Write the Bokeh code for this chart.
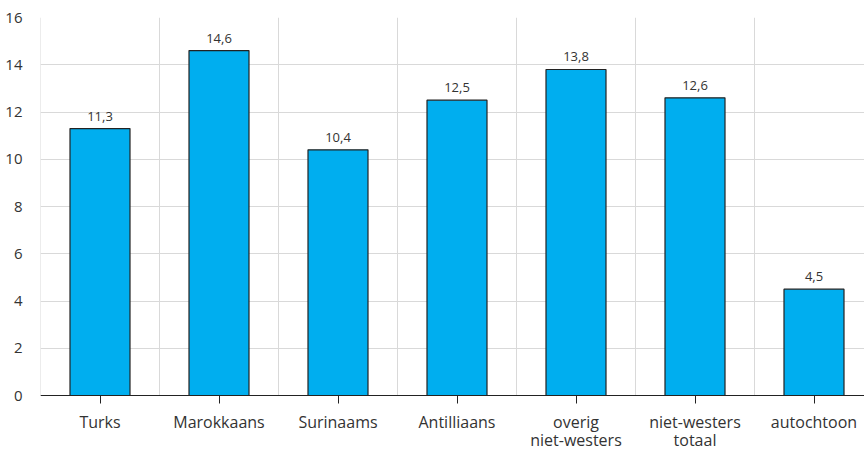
from bokeh.plotting import figure
from bokeh.models import Range1d, FixedTicker, ColumnDataSource, LabelSet
from bokeh.core.properties import value
from bokeh.embed import file_html
from bokeh.resources import INLINE

categories = ["Turks", "Marokkaans", "Surinaams", "Antilliaans",
              "overig\nniet-westers", "niet-westers\ntotaal", "autochtoon"]
values = [11.3, 14.6, 10.4, 12.5, 13.8, 12.6, 4.5]
value_labels = ["11,3", "14,6", "10,4", "12,5", "13,8", "12,6", "4,5"]
y_ticks = [0, 2, 4, 6, 8, 10, 12, 14, 16]

FONT = "Open Sans"
TXT = "#333333"
GRID = "#d9d9d9"

n = len(categories)
xs = [i + 0.5 for i in range(n)]
src = ColumnDataSource(dict(x=xs, top=values, lab=value_labels))

line1 = ColumnDataSource(dict(x=xs, y=[0] * n,
                              t=[c.split("\n")[0] for c in categories]))
x2 = [x for x, c in zip(xs, categories) if "\n" in c]
line2 = ColumnDataSource(dict(x=x2, y=[0] * len(x2),
                              t=[c.split("\n")[1] for c in categories if "\n" in c]))

# frame: 16 at top (17px), 0 at 395px, frame runs to canvas bottom (450px)
px_per_unit = (395 - 17) / 16.0
y_bottom = -(450 - 395) / px_per_unit

p = figure(width=864, height=450, output_backend="svg", toolbar_location=None,
           x_range=Range1d(0, 824 / 119.0), y_range=Range1d(y_bottom, 16),
           min_border_left=40, min_border_right=0, min_border_top=17,
           min_border_bottom=0)
p.outline_line_color = None
p.background_fill_color = "white"
p.border_fill_color = "white"

# vertical grid lines at category boundaries (0 .. 16 only)
bounds = list(range(0, n))
p.segment(x0=bounds, y0=[0] * n, x1=bounds, y1=[16] * n,
          line_color=GRID, line_width=1)

p.vbar(x="x", top="top", width=60 / 119.0, source=src,
       fill_color="#00AEEF", line_color="#222222", line_width=1.2)

p.add_layout(LabelSet(x="x", y="top", text="lab", source=src, text_align="center",
                      text_baseline="alphabetic", y_offset=8, text_font=value(FONT),
                      text_font_size="13px", text_color=TXT))

p.add_layout(LabelSet(x="x", y="y", text="t", source=line1, text_align="center",
                      text_baseline="alphabetic", y_offset=-32, text_font=value(FONT),
                      text_font_size="16px", text_color=TXT))
p.add_layout(LabelSet(x="x", y="y", text="t", source=line2, text_align="center",
                      text_baseline="alphabetic", y_offset=-50, text_font=value(FONT),
                      text_font_size="16px", text_color=TXT))

# x axis fixed at y = 0
p.xaxis.fixed_location = 0
p.xaxis.ticker = FixedTicker(ticks=xs)
p.xaxis.major_label_text_font_size = "0px"
p.xaxis.major_label_text_color = None
p.xaxis.axis_line_color = "#222222"
p.xaxis.axis_line_width = 1.2
p.xaxis.major_tick_line_color = "#222222"
p.xaxis.major_tick_in = 0
p.xaxis.major_tick_out = 8
p.xaxis.minor_tick_line_color = None

# y axis
p.yaxis.ticker = FixedTicker(ticks=y_ticks)
p.yaxis.axis_line_color = None
p.yaxis.major_tick_line_color = None
p.yaxis.major_tick_out = 0
p.yaxis.major_tick_in = 0
p.yaxis.minor_tick_line_color = None
p.yaxis.minor_tick_out = 0
p.yaxis.major_label_text_font = FONT
p.yaxis.major_label_text_font_size = "15px"
p.yaxis.major_label_text_color = TXT
p.yaxis.major_label_standoff = 18

# grids
p.ygrid.ticker = FixedTicker(ticks=y_ticks)
p.ygrid.grid_line_color = GRID
p.ygrid.grid_line_width = 1
p.xgrid.grid_line_color = None

open("out.html", "w").write(file_html(p, INLINE))
